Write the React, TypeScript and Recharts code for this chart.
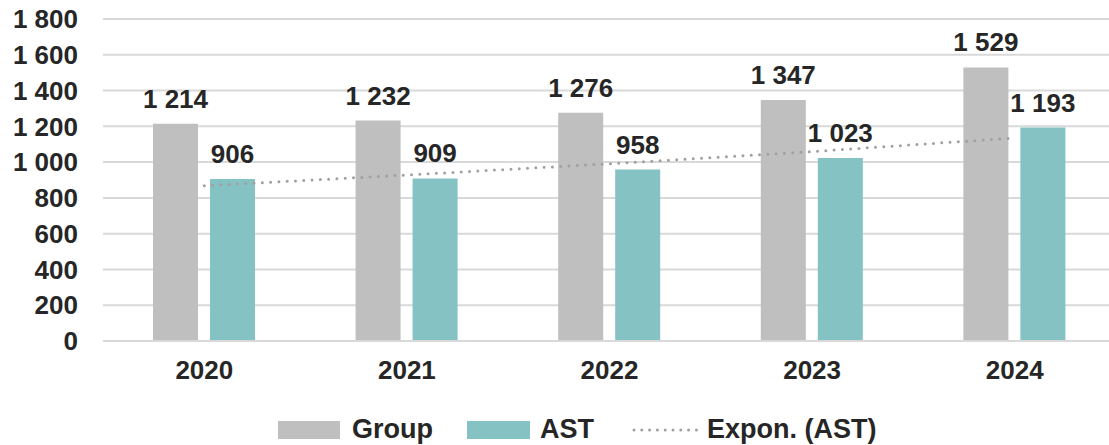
import { ComposedChart, Bar, Line, XAxis, YAxis, CartesianGrid, Legend, LabelList } from 'recharts';

const years = ['2020', '2021', '2022', '2023', '2024'];
const groupValues = [1214, 1232, 1276, 1347, 1529];
const astValues = [906, 909, 958, 1023, 1193];
const trendValues = [868, 928, 991, 1059, 1135];
const yTicks = [0, 200, 400, 600, 800, 1000, 1200, 1400, 1600, 1800];

const data = years.map((year, i) => ({
  year,
  group: groupValues[i],
  ast: astValues[i],
  trend: trendValues[i],
}));

const GRAY = '#BFBFBF';
const TEAL = '#84C2C3';
const TREND = '#A0A0A0';
const TEXT = '#262626';
const FONT = '"Liberation Sans", Arial, sans-serif';

const fmt = (v: number) => String(v).replace(/\B(?=(\d{3})+(?!\d))/g, ' ');

const LegendContent = () => (
  <div
    style={{
      display: 'flex',
      alignItems: 'center',
      fontFamily: FONT,
      fontWeight: 700,
      fontSize: 27,
      color: TEXT,
      paddingLeft: 278,
      paddingTop: 23,
    }}
  >
    <span style={{ width: 62, height: 18, background: GRAY, display: 'inline-block' }} />
    <span style={{ marginLeft: 12, marginRight: 34 }}>Group</span>
    <span style={{ width: 63, height: 18, background: TEAL, display: 'inline-block' }} />
    <span style={{ marginLeft: 10, marginRight: 38 }}>AST</span>
    <svg width={67} height={18}>
      <line x1={2} y1={9} x2={65} y2={9} stroke={TREND} strokeWidth={3} strokeDasharray="0 7.8" strokeLinecap="round" />
    </svg>
    <span style={{ marginLeft: 8 }}>Expon. (AST)</span>
  </div>
);

export default function App() {
  return (
    <div style={{ position: 'absolute', left: 0, top: 0, width: 1109, height: 445, overflow: 'hidden', background: '#fff' }}>
      <ComposedChart
        width={1117}
        height={445}
        data={data}
        margin={{ top: 19, right: 1, left: 0, bottom: 0 }}
        barGap={12}
      >
        <CartesianGrid vertical={false} stroke="#D9D9D9" strokeWidth={2} />
        <XAxis
          dataKey="year"
          height={50}
          axisLine={{ stroke: '#D9D9D9', strokeWidth: 2 }}
          tickLine={false}
          tickSize={0}
          tickMargin={20}
          tick={{ fill: TEXT, fontSize: 26, fontWeight: 700, fontFamily: FONT }}
        />
        <YAxis
          width={103}
          domain={[0, 1800]}
          ticks={yTicks}
          interval={0}
          axisLine={false}
          tickLine={false}
          tickSize={0}
          tickMargin={25}
          tickFormatter={fmt}
          tick={{ fill: TEXT, fontSize: 26, fontWeight: 700, fontFamily: FONT }}
        />
        <Legend verticalAlign="bottom" height={54} content={<LegendContent />} />
        <Bar dataKey="group" name="Group" fill={GRAY} barSize={45} isAnimationActive={false}>
          <LabelList
            dataKey="group"
            position="top"
            offset={16}
            formatter={(v: any) => fmt(Number(v))}
            style={{ fill: TEXT, fontSize: 26, fontWeight: 700, fontFamily: FONT }}
          />
        </Bar>
        <Bar dataKey="ast" name="AST" fill={TEAL} barSize={45} isAnimationActive={false}>
          <LabelList
            dataKey="ast"
            position="top"
            offset={16}
            formatter={(v: any) => fmt(Number(v))}
            style={{ fill: TEXT, fontSize: 26, fontWeight: 700, fontFamily: FONT }}
          />
        </Bar>
        <Line
          dataKey="trend"
          name="Expon. (AST)"
          stroke={TREND}
          strokeWidth={3}
          strokeDasharray="0 8.3"
          strokeLinecap="round"
          dot={false}
          activeDot={false}
          isAnimationActive={false}
        />
      </ComposedChart>
    </div>
  );
}
